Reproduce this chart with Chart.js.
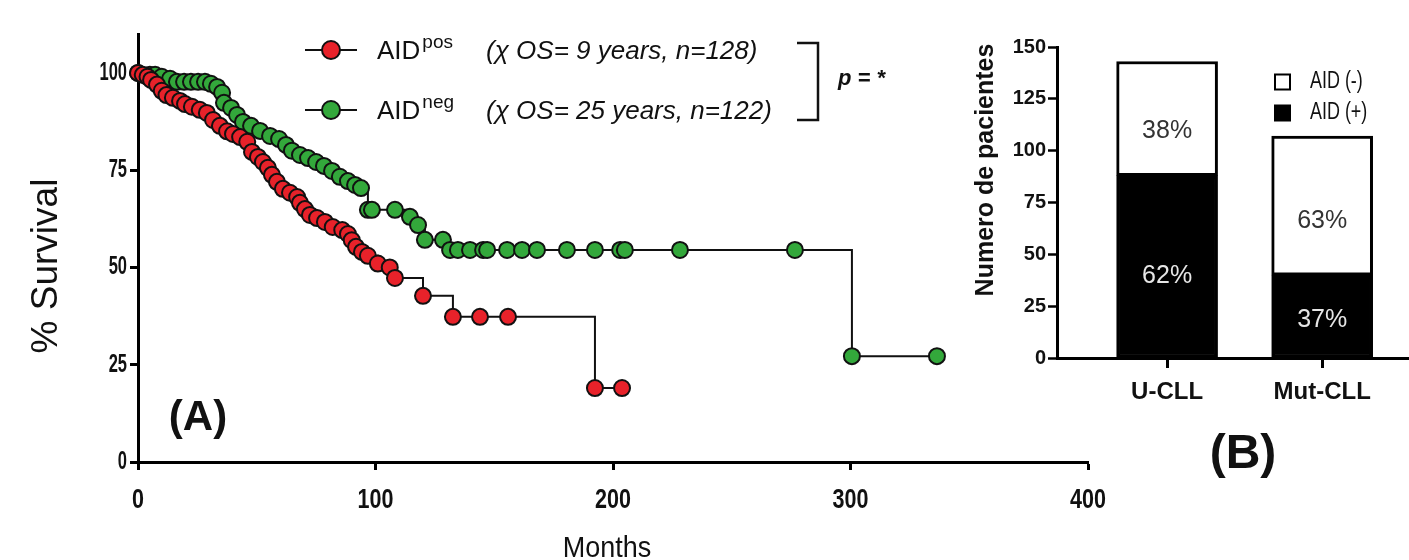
<!DOCTYPE html>
<html>
<head>
<meta charset="utf-8">
<script src="https://cdn.jsdelivr.net/npm/chart.js@4.4.0/dist/chart.umd.min.js"></script>
<style>
    html, body { margin: 0; padding: 0; background: #fff; }
    #wrap { position: relative; width: 1409px; height: 560px; overflow: hidden; background: #fff; }
    #survivalChart { position: absolute; left: 0; top: 0; }
    #barChart { position: absolute; left: 960px; top: 0; }
</style>
</head>
<body>
<div id="wrap">
    <canvas id="survivalChart" width="1110" height="560"></canvas>
    <canvas id="barChart" width="449" height="560"></canvas>
</div>
<script>
// ================================================
// (A) Kaplan-Meier survival, AID pos vs neg
// (B) AID status per IGHV group (stacked bars)
// ================================================

// --- panel A data (months, % survival) ---
const posMonths = [0, 2, 4, 5.5, 8, 10, 12, 14.7, 17.7, 19.8, 22.7, 26, 29, 31.6, 34.5, 37.5, 40, 43, 46,
    48, 50.5, 52.6, 54.7, 56.4, 58.5, 61, 64, 67, 68.2, 70.3, 72.4, 75.4, 78.7, 82, 86, 88.4, 90, 91.8,
    94.3, 96.8, 101, 106, 108.2, 120, 132.6, 144, 155.8, 192.4, 203.8];
const posSurvival = [100, 99.5, 99, 98.2, 97, 95.4, 94.3, 93.6, 92.8, 92, 91.3, 90.5, 89.7, 87.9, 86.4, 85, 84.3, 83.5, 82.3,
    79.7, 78.4, 77.1, 75.6, 73.8, 72, 70.2, 69.2, 68.1, 66.6, 65, 63.5, 62.7, 61.7, 60.4, 59.6, 58.6, 57, 55.3,
    54, 53, 51, 50, 47.3, 42.7, 37.3, 37.3, 37.3, 19, 19];

const negMonths = [0, 5, 7.2, 10, 13.5, 16.4, 19.4, 22.3, 25.3, 28.2, 30.7, 33.3, 35.4, 36.2, 39.2, 41.7, 44.2, 47.6,
    51.4, 55.6, 59.4, 62.3, 64.8, 68.2, 71.6, 75, 78.3, 81.7, 85, 88.4, 91.4, 93.9, 96.8, 98.5, 108.2, 114.5,
    117.9, 120.8, 128.4, 131.4, 134.7, 139.8, 145.3, 147, 155.4, 161.7, 168, 180.6, 192.4, 203, 205, 228.2,
    276.6, 300.6, 336.4];
const negSurvival = [100, 99.5, 99.5, 99, 98.5, 97.7, 97.7, 97.7, 97.7, 97.7, 97.2, 96.4, 94.9, 92.3, 91, 89.2, 87.4, 86.4,
    85.1, 83.8, 83, 81.5, 80, 78.9, 78.1, 77.1, 76.1, 74.8, 73.3, 72.2, 71.2, 70.4, 64.8, 64.8, 64.8, 63,
    60.9, 57.1, 57.1, 54.5, 54.5, 54.5, 54.5, 54.5, 54.5, 54.5, 54.5, 54.5, 54.5, 54.5, 54.5, 54.5,
    54.5, 27.2, 27.2];

const seriesSup = ['pos', 'neg'];
const seriesNotes = ['(\u03C7 OS= 9 years, n=128)', '(\u03C7 OS= 25 years, n=122)'];
const monthTicks = [0, 100, 200, 300, 400];
const survivalTicks = [0, 25, 50, 75, 100];

// --- panel B data (number of patients) ---
const groups = ['U-CLL', 'Mut-CLL'];
const aidPositive = [88, 40];
const aidNegative = [55, 67];
const patientTicks = [0, 25, 50, 75, 100, 125, 150];

const RED = '#e8222a';
const GREEN = '#33a83b';
const INK = '#111';
const SANS = "'Liberation Sans', Arial, sans-serif";

Chart.defaults.font.family = SANS;
Chart.defaults.color = INK;

function toPoints(xs, ys) {
    return xs.map((x, i) => ({ x: x, y: ys[i] }));
}

// text squeezed horizontally, to mimic the condensed face of the figure
function squeezedText(ctx, text, x, y, font, sx, align) {
    ctx.save();
    ctx.translate(x, y);
    ctx.scale(sx, 1);
    ctx.font = font;
    ctx.textAlign = align;
    ctx.textBaseline = 'middle';
    ctx.fillText(text, 0, 0);
    ctx.restore();
}

// ---------- panel A decorations ----------
const survivalDecor = {
    id: 'survivalDecor',
    afterDraw(chart) {
        const ctx = chart.ctx;
        const xs = chart.scales.x;
        const ys = chart.scales.y;
        ctx.save();
        ctx.fillStyle = INK;

        // tick labels, placed from the scales
        xs.ticks.forEach(t => {
            squeezedText(ctx, String(t.value), xs.getPixelForValue(t.value), 500, 'bold 28px ' + SANS, 0.77, 'center');
        });
        ys.ticks.forEach(t => {
            squeezedText(ctx, String(t.value), xs.left - 11, ys.getPixelForValue(t.value), 'bold 25px ' + SANS, 0.66, 'right');
        });

        // axis titles
        ctx.save();
        ctx.translate(47, 266);
        ctx.rotate(-Math.PI / 2);
        ctx.font = '37px ' + SANS;
        ctx.textAlign = 'center';
        ctx.textBaseline = 'middle';
        ctx.fillText('% Survival', 0, 0);
        ctx.restore();

        ctx.save();
        ctx.translate((xs.left + xs.right) / 2 - 6, 549);
        ctx.scale(1, 1.12);
        ctx.font = '27px ' + SANS;
        ctx.textAlign = 'center';
        ctx.textBaseline = 'middle';
        ctx.fillText('Months', 0, 0);
        ctx.restore();

        // panel letter
        ctx.font = 'bold 42px ' + SANS;
        ctx.textAlign = 'center';
        ctx.textBaseline = 'middle';
        ctx.fillText('(A)', 198, 418);

        // legend rows
        const rowsY = [50, 110];
        chart.data.datasets.forEach((ds, i) => {
            const y = rowsY[i];
            ctx.strokeStyle = INK;
            ctx.lineWidth = 2;
            ctx.beginPath();
            ctx.moveTo(305, y);
            ctx.lineTo(357, y);
            ctx.stroke();
            ctx.beginPath();
            ctx.arc(331, y, 9, 0, Math.PI * 2);
            ctx.fillStyle = ds.pointBackgroundColor;
            ctx.fill();
            ctx.stroke();

            ctx.fillStyle = INK;
            ctx.textAlign = 'left';
            ctx.textBaseline = 'alphabetic';
            ctx.font = '26px ' + SANS;
            ctx.fillText(ds.label, 377, y + 9);
            const w = ctx.measureText(ds.label).width;
            ctx.font = '19px ' + SANS;
            ctx.fillText(seriesSup[i], 377 + w + 2, y - 2);
            ctx.font = 'italic 26px ' + SANS;
            ctx.fillText(seriesNotes[i], 486, y + 9);
        });

        // bracket + p value
        ctx.strokeStyle = INK;
        ctx.lineWidth = 2.5;
        ctx.beginPath();
        ctx.moveTo(797, 43);
        ctx.lineTo(818, 43);
        ctx.lineTo(818, 120);
        ctx.lineTo(797, 120);
        ctx.stroke();
        ctx.font = 'italic bold 22px ' + SANS;
        ctx.textAlign = 'left';
        ctx.textBaseline = 'middle';
        ctx.fillText('p = *', 838, 79);

        ctx.restore();
    }
};

const survivalChart = new Chart(document.getElementById('survivalChart'), {
    type: 'line',
    data: {
        datasets: [
            {
                label: 'AID',
                data: toPoints(posMonths, posSurvival),
                stepped: 'before',
                borderColor: INK,
                borderWidth: 2,
                pointRadius: 8,
                pointBorderWidth: 2,
                pointBorderColor: INK,
                pointBackgroundColor: RED,
                fill: false,
                clip: false
            },
            {
                label: 'AID',
                data: toPoints(negMonths, negSurvival),
                stepped: 'before',
                borderColor: INK,
                borderWidth: 2,
                pointRadius: 8,
                pointBorderWidth: 2,
                pointBorderColor: INK,
                pointBackgroundColor: GREEN,
                fill: false,
                clip: false
            }
        ]
    },
    options: {
        responsive: false,
        animation: false,
        layout: { padding: { top: 34, right: 22, bottom: 0, left: 0 } },
        plugins: {
            legend: { display: false },
            tooltip: { enabled: false }
        },
        scales: {
            x: {
                type: 'linear',
                min: 0,
                max: 400,
                afterBuildTicks: (s) => { s.ticks = monthTicks.map(v => ({ value: v })); },
                afterFit: (s) => { s.height = 98; },
                grid: { drawOnChartArea: false, drawTicks: true, tickLength: 8, tickWidth: 3, tickColor: '#000' },
                border: { display: true, color: '#000', width: 3 },
                ticks: { display: false }
            },
            y: {
                type: 'linear',
                min: 0,
                max: 110,
                afterBuildTicks: (s) => { s.ticks = survivalTicks.map(v => ({ value: v })); },
                afterFit: (s) => { s.width = 138; },
                grid: { drawOnChartArea: false, drawTicks: true, tickLength: 8, tickWidth: 3, tickColor: '#000' },
                border: { display: true, color: '#000', width: 3 },
                ticks: { display: false }
            }
        }
    },
    plugins: [survivalDecor]
});

// ---------- panel B decorations ----------
const barDecor = {
    id: 'barDecor',
    afterDatasetsDraw(chart) {
        const ctx = chart.ctx;
        ctx.save();
        ctx.textAlign = 'center';
        ctx.textBaseline = 'middle';
        ctx.font = '25px ' + SANS;
        chart.data.datasets.forEach((ds, di) => {
            const meta = chart.getDatasetMeta(di);
            meta.data.forEach((bar, i) => {
                const total = aidPositive[i] + aidNegative[i];
                const pct = Math.round(100 * ds.data[i].y / total);
                ctx.fillStyle = ds.textColor;
                ctx.fillText(pct + '%', bar.x, bar.y + ds.textAt * (bar.base - bar.y));
            });
        });
        ctx.restore();
    },
    afterDraw(chart) {
        const ctx = chart.ctx;
        ctx.save();
        ctx.fillStyle = INK;

        // y axis title
        ctx.save();
        ctx.translate(26, 170);
        ctx.rotate(-Math.PI / 2);
        ctx.font = 'bold 25px ' + SANS;
        ctx.textAlign = 'center';
        ctx.textBaseline = 'middle';
        ctx.fillText('Numero de pacientes', 0, 0);
        ctx.restore();

        // legend: AID (-) above AID (+)
        const legendOrder = [1, 0];
        legendOrder.forEach((di, row) => {
            const ds = chart.data.datasets[di];
            const y = 82 + row * 31;
            ctx.fillStyle = ds.backgroundColor;
            ctx.fillRect(315, y - 7.5, 15, 15);
            ctx.strokeStyle = '#000';
            ctx.lineWidth = 2;
            ctx.strokeRect(315, y - 7.5, 15, 15);
            ctx.fillStyle = INK;
            squeezedText(ctx, ds.label, 350, y, '23px ' + SANS, 0.78, 'left');
        });

        // panel letter
        ctx.font = 'bold 48px ' + SANS;
        ctx.textAlign = 'center';
        ctx.textBaseline = 'middle';
        ctx.fillText('(B)', 283, 455);
        ctx.restore();
    }
};

const barChart = new Chart(document.getElementById('barChart'), {
    type: 'bar',
    data: {
        datasets: [
            {
                label: 'AID (+)',
                data: toPoints(groups.map((g, i) => i + 1), aidPositive),
                backgroundColor: '#000',
                borderColor: '#000',
                borderWidth: 3,
                borderSkipped: false,
                barThickness: 101,
                textColor: '#e6e6e6',
                textAt: 0.55
            },
            {
                label: 'AID (-)',
                data: toPoints(groups.map((g, i) => i + 1), aidNegative),
                backgroundColor: '#fff',
                borderColor: '#000',
                borderWidth: 3,
                borderSkipped: false,
                barThickness: 101,
                textColor: '#333',
                textAt: 0.61
            }
        ]
    },
    options: {
        responsive: false,
        animation: false,
        layout: { padding: { top: 47, right: 0, bottom: 0, left: 0 } },
        plugins: {
            legend: { display: false },
            tooltip: { enabled: false }
        },
        scales: {
            x: {
                type: 'linear',
                min: 0.29,
                max: 2.56,
                offset: false,
                stacked: true,
                afterBuildTicks: (s) => { s.ticks = groups.map((g, i) => ({ value: i + 1 })); },
                afterFit: (s) => { s.height = 202; },
                grid: { offset: false, drawOnChartArea: false, drawTicks: true, tickLength: 10, tickWidth: 3, tickColor: '#000' },
                border: { display: true, color: '#000', width: 3 },
                ticks: {
                    color: INK,
                    padding: 10,
                    maxRotation: 0,
                    font: { size: 24, weight: 'bold' },
                    callback: (v, i) => groups[i]
                }
            },
            y: {
                type: 'linear',
                min: 0,
                max: 150,
                stacked: true,
                afterBuildTicks: (s) => { s.ticks = patientTicks.map(v => ({ value: v })); },
                afterFit: (s) => { s.width = 97; },
                grid: { drawOnChartArea: false, drawTicks: true, tickLength: 9, tickWidth: 2.5, tickColor: '#000' },
                border: { display: true, color: '#000', width: 3 },
                ticks: { color: INK, padding: 2, font: { size: 20, weight: 'bold' } }
            }
        }
    },
    plugins: [barDecor]
});
</script>
</body>
</html>
